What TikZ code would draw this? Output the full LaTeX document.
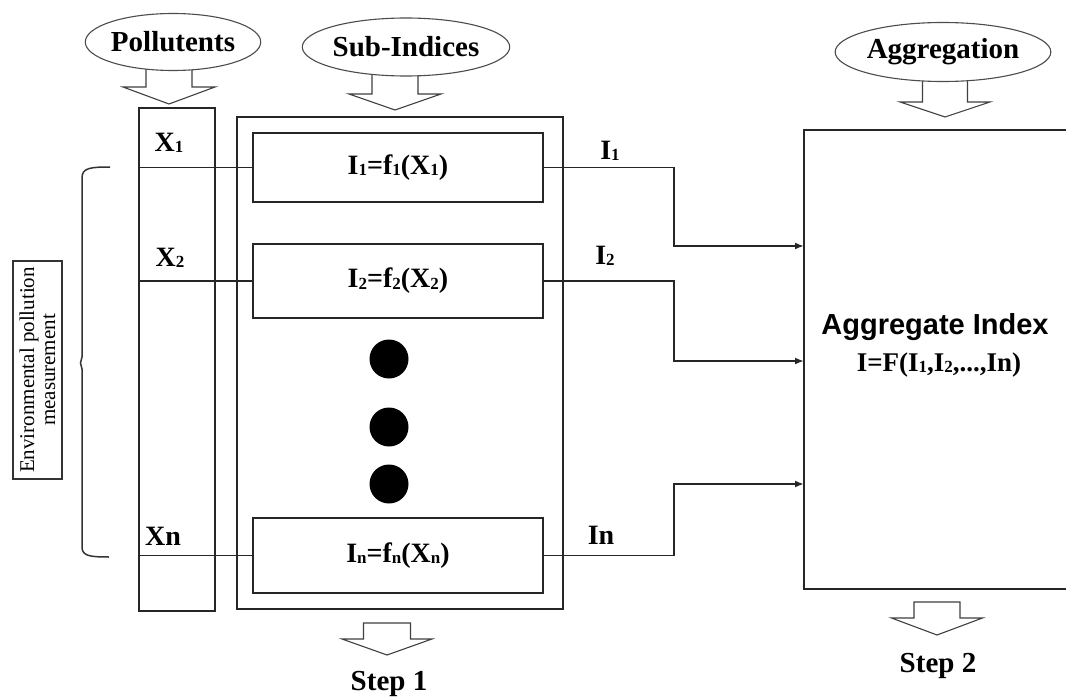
\documentclass[tikz,border=0pt]{standalone}
\usepackage{fontspec}
\setmainfont{Liberation Serif}
\newfontfamily\arialf{Liberation Sans}
\usetikzlibrary{arrows.meta,shapes.geometric,calc}
\newcommand\sbs[1]{\raisebox{-1.5pt}{\fontsize{17}{17}\selectfont #1}}
\newcommand\hollowarrow[6]{%
  \draw[hollow] ({#1-#3},#2) -- ({#1-#3},#4) -- ({#1-#5},#4) -- (#1,#6)
    -- ({#1+#5},#4) -- ({#1+#3},#4) -- ({#1+#3},#2) -- cycle;}
\tikzset{
  ln/.style={line width=1.8pt, draw=black!85},
  box/.style={draw=black!85, line width=1.8pt, rectangle, inner sep=0pt},
  oval/.style={ellipse, draw=black!70, line width=1.1pt, fill=white, inner sep=0pt,
    font=\fontsize{29}{30}\selectfont\bfseries},
  lbl/.style={inner sep=0pt, font=\fontsize{28}{30}\selectfont\bfseries},
  dotc/.style={circle, fill=black, minimum size=39pt, inner sep=0pt},
  hollow/.style={draw=black!75, line width=1.1pt, fill=white, line join=miter},
  tipa/.style={-{Latex[length=9pt,width=7pt]}}
}
\begin{document}
\begin{tikzpicture}[x=1pt,y=-1pt]
\useasboundingbox[fill=white] (0,0) rectangle (1066,698);

% hollow arrows below the ovals (drawn first, ovals cover their tops)
\hollowarrow{169}{50}{23}{87}{46}{104}
\hollowarrow{395}{55}{23}{94}{46}{110}
\hollowarrow{945}{60}{22.5}{102}{45}{117}

% ovals
\node[oval, minimum width=168pt, minimum height=57pt] (pol) at (173,42) {Pollutents};
\node[oval, minimum width=197pt, minimum height=58pt] (sub) at (406,47) {Sub-Indices};
\node[oval, minimum width=200pt, minimum height=59pt] (agr) at (943,52) {Aggregation};

% pollutant column and step 1 frame
\node[box, minimum width=76pt, minimum height=503pt] (col) at (177,359.5) {};
\node[box, minimum width=326pt, minimum height=492pt] (frame) at (400,363) {};

% sub-index boxes
\node[box, fill=white, minimum width=290pt, minimum height=69pt, lbl] (b1) at (398,167.5)
  {I\sbs{1}=f\sbs{1}(X\sbs{1})};
\node[box, fill=white, minimum width=290pt, minimum height=74pt, lbl] (b2) at (398,281)
  {I\sbs{2}=f\sbs{2}(X\sbs{2})};
\node[box, fill=white, minimum width=290pt, minimum height=75pt, lbl] (bn) at (398,555.5)
  {I\sbs{n}=f\sbs{n}(X\sbs{n})};

% input lines
\draw[ln] (col.west |- b1.west) -- (b1.west);
\draw[ln] (col.west |- b2.west) -- (b2.west);
\draw[ln] (col.west |- bn.west) -- (bn.west);

% pollutant labels
\node[lbl] (x1) at (169,143) {X\sbs{1}};
\node[lbl] (x2) at (170,258) {X\sbs{2}};
\node[lbl] (xn) at (163,536) {Xn};

% dots
\node[dotc] (d1) at (389,359) {};
\node[dotc] (d2) at (389,427) {};
\node[dotc] (d3) at (389,484) {};

% aggregate box (right side runs off the picture)
\node[minimum width=262pt, minimum height=459pt, inner sep=0pt] (agg) at (935,359.5) {};
\draw[ln] (agg.north east) -- (agg.north west) -- (agg.south west) -- (agg.south east);
\node[inner sep=0pt, font=\arialf\fontsize{29}{30}\selectfont\bfseries] (aggt) at (935,327) {Aggregate Index};
\node[lbl, font=\fontsize{27}{30}\selectfont\bfseries] (aggf) at (939,365)
  {I=F(I\sbs{1},I\sbs{2},...,In)};

% connectors to aggregate
\coordinate (a1) at (804,246);
\coordinate (a2) at (804,361);
\coordinate (a3) at (804,484);
\draw[ln, tipa] (b1.east) -| (674,246) -- (a1);
\draw[ln, tipa] (b2.east) -| (674,361) -- (a2);
\draw[ln, tipa] (bn.east) -| (674,484) -- (a3);

% index labels
\node[lbl] (i1) at (610,151) {I\sbs{1}};
\node[lbl] (i2) at (605,256) {I\sbs{2}};
\node[lbl] (in) at (601,535) {In};

% bracket
\draw[line width=1.5pt, draw=black!80]
  (110,167) .. controls (90,167) and (82,168) .. (82,178) -- (82,357) -- (80.5,363)
  -- (82,369) -- (82,547) .. controls (82,556) and (90,557) .. (109,557);

% environmental measurement box
\node[draw=black!80, line width=1.3pt, rotate=90, minimum width=218pt, minimum height=49pt,
  inner sep=0pt, align=center, font=\fontsize{21}{21}\selectfont] (env) at (37.5,370)
  {Environmental pollution\\measurement};

% step arrows and labels
\hollowarrow{387}{623}{23.5}{639}{45}{655}
\hollowarrow{937}{602}{23}{618}{45.5}{635}
\node[lbl, font=\fontsize{29}{30}\selectfont\bfseries] (s1) at (389,684) {Step 1};
\node[lbl, font=\fontsize{29}{30}\selectfont\bfseries] (s2) at (938,666) {Step 2};
\end{tikzpicture}
\end{document}
